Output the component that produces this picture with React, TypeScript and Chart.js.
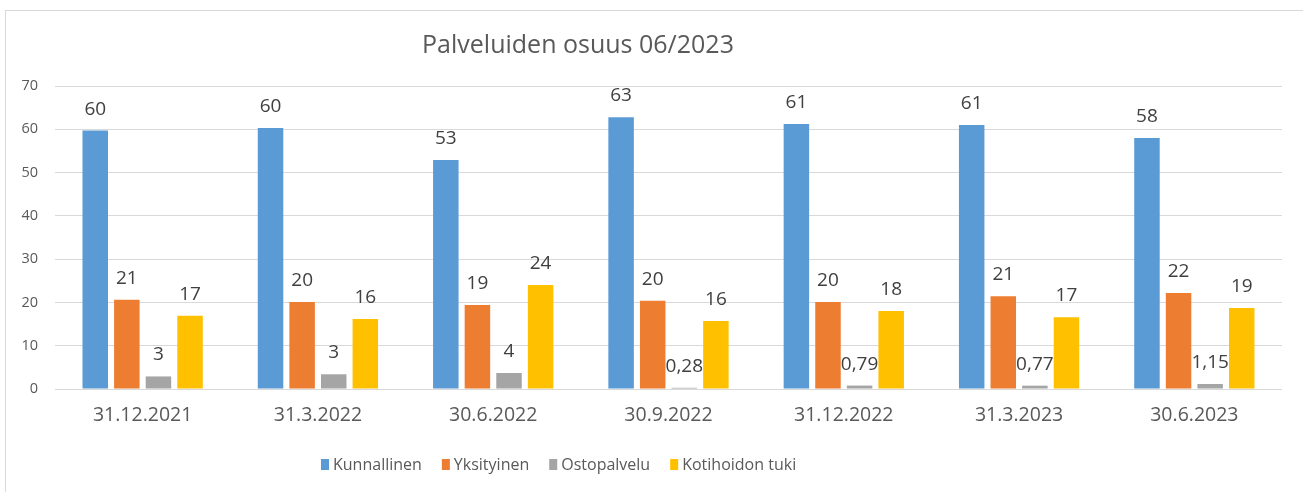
import React, { useEffect, useRef } from "react";
import { Chart, registerables } from "chart.js";

Chart.register(...registerables);

const chartTitle = "Palveluiden osuus 06/2023";
const categories = ["31.12.2021", "31.3.2022", "30.6.2022", "30.9.2022", "31.12.2022", "31.3.2023", "30.6.2023"];
const kunnallinen = [59.7, 60.3, 52.9, 62.8, 61.2, 61.0, 58.0];
const yksityinen = [20.6, 20.1, 19.4, 20.4, 20.1, 21.4, 22.2];
const ostopalvelu = [2.9, 3.4, 3.7, 0.28, 0.79, 0.77, 1.15];
const kotihoidonTuki = [16.9, 16.2, 24.0, 15.7, 18.0, 16.6, 18.7];
const seriesNames = ["Kunnallinen", "Yksityinen", "Ostopalvelu", "Kotihoidon tuki"];
const seriesColors = ["#5B9BD5", "#ED7D31", "#A5A5A5", "#FFC000"];
const yMin = 0;
const yMax = 70;
const yStep = 10;

const FONT = '"Open Sans", sans-serif';
const TEXT = "#595959";

function fmt(v: number): string {
  if (v < 2) return v.toFixed(2).replace(".", ",");
  return String(Math.round(v));
}

const overlayPlugin = {
  id: "overlay",
  afterDatasetsDraw(chart: any) {
    const ctx = chart.ctx;
    ctx.save();
    ctx.font = `19px ${FONT}`;
    ctx.fillStyle = "#404040";
    ctx.textAlign = "center";
    ctx.textBaseline = "alphabetic";
    chart.data.datasets.forEach((ds: any, i: number) => {
      const meta = chart.getDatasetMeta(i);
      meta.data.forEach((el: any, j: number) => {
        ctx.fillText(fmt(ds.data[j]), el.x, el.y - 16);
      });
    });
    ctx.restore();
  },
  afterDraw(chart: any) {
    const ctx = chart.ctx;
    ctx.save();
    // title
    ctx.font = `25px ${FONT}`;
    ctx.fillStyle = TEXT;
    ctx.textAlign = "center";
    ctx.textBaseline = "alphabetic";
    ctx.fillText(chartTitle, 578, 53);
    // legend
    ctx.font = `16px ${FONT}`;
    ctx.textAlign = "left";
    let x = 321;
    chart.data.datasets.forEach((ds: any) => {
      ctx.fillStyle = ds.backgroundColor;
      ctx.fillRect(x, 459, 8, 11);
      ctx.fillStyle = TEXT;
      ctx.fillText(ds.label, x + 12, 470);
      x += 12 + ctx.measureText(ds.label).width + 20;
    });
    ctx.restore();
  },
};

export default function App() {
  const ref = useRef<HTMLCanvasElement>(null);
  useEffect(() => {
    if (!ref.current) return;
    const series = [kunnallinen, yksityinen, ostopalvelu, kotihoidonTuki];
    const chart = new Chart(ref.current, {
      type: "bar",
      data: {
        labels: categories,
        datasets: series.map((d, i) => ({
          label: seriesNames[i],
          data: d,
          backgroundColor: seriesColors[i],
          borderWidth: 0,
          categoryPercentage: 0.721,
          barPercentage: 0.807,
        })),
      },
      options: {
        responsive: false,
        animation: false,
        layout: { padding: { top: 86, right: 21, left: 0, bottom: 0 } },
        plugins: {
          legend: { display: false },
          title: { display: false },
          tooltip: { enabled: false },
        },
        scales: {
          x: {
            grid: { display: false, drawTicks: false },
            border: { display: false },
            ticks: { color: TEXT, font: { family: FONT, size: 19.5 }, padding: 15 },
            afterFit: (s: any) => {
              s.height = 103;
            },
          },
          y: {
            min: yMin,
            max: yMax,
            ticks: { stepSize: yStep, color: TEXT, font: { family: FONT, size: 14.5 }, padding: 17 },
            grid: { color: "#d9d9d9", drawTicks: false, lineWidth: 1 },
            border: { display: false },
            afterFit: (s: any) => {
              s.width = 55;
            },
          },
        },
      },
      plugins: [overlayPlugin],
    } as any);
    return () => chart.destroy();
  }, []);

  return (
    <div style={{ position: "absolute", left: 0, top: 0, width: 1303, height: 492, overflow: "hidden", background: "#fff" }}>
      <div style={{ position: "absolute", left: 5, top: 10, width: 1400, height: 600, border: "1px solid #d9d9d9" }} />
      <canvas ref={ref} width={1303} height={492} style={{ position: "absolute", left: 0, top: 0, display: "block" }} />
    </div>
  );
}
